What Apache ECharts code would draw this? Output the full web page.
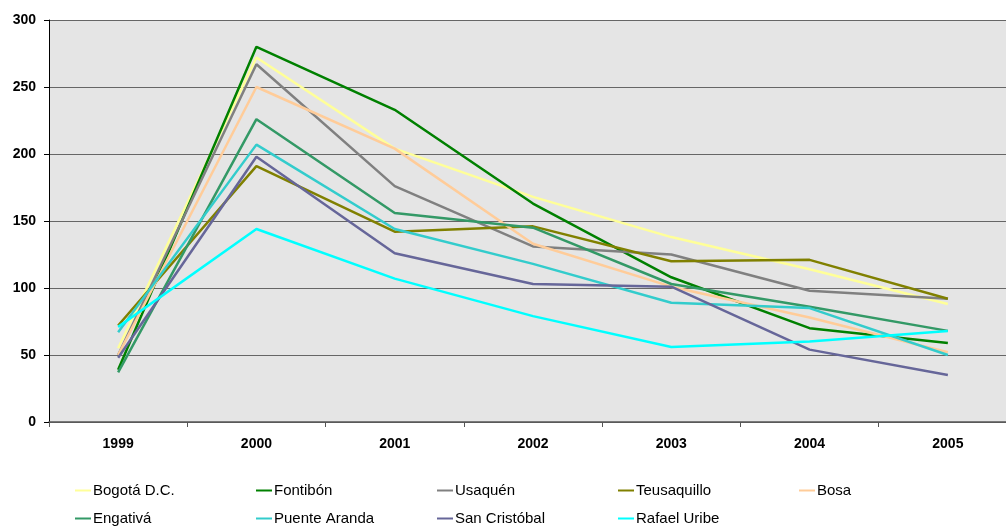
<!DOCTYPE html>
<html>
<head>
<meta charset="utf-8">
<script src="https://cdn.jsdelivr.net/npm/echarts@6/dist/echarts.min.js"></script>
<style>
  html, body {margin: 0; padding: 0; background: #fff;}
  #display {width: 1006px; height: 532px;}
</style>
</head>
<body>
<div id="display"></div>
<script>
var years = ['1999', '2000', '2001', '2002', '2003', '2004', '2005'];
var yTicks = [0, 50, 100, 150, 200, 250, 300];

var names = ['Bogotá D.C.', 'Fontibón', 'Usaquén', 'Teusaquillo', 'Bosa',
             'Engativá', 'Puente Aranda', 'San Cristóbal', 'Rafael Uribe'];

var bogota = [55, 272, 204, 168, 138, 114, 88];
var fontibon = [39, 280, 233, 163, 108, 70, 59];
var usaquen = [50, 267, 176, 131, 125, 98, 92];
var teusaquillo = [72, 191, 142, 146, 120, 121, 92];
var bosa = [50, 250, 204, 133, 101, 78, 52];
var engativa = [37, 226, 156, 145, 103, 86, 68];
var puenteAranda = [67, 207, 144, 118, 89, 85, 50];
var sanCristobal = [48, 198, 126, 103, 101, 54, 35];
var rafaelUribe = [71, 144, 107, 79, 56, 60, 68];

var colors = ['#FFFF99', '#008000', '#808080', '#808000', '#FFCC99',
              '#339966', '#33CCCC', '#666699', '#00FFFF'];
var values = [bogota, fontibon, usaquen, teusaquillo, bosa,
              engativa, puenteAranda, sanCristobal, rafaelUribe];

var series = [];
var legends = [];
for (var i = 0; i < names.length; i++) {
    series.push({
        name: names[i],
        type: 'line',
        data: values[i],
        symbol: 'none',
        color: colors[i],
        lineStyle: {width: 2.5, color: colors[i]}
    });
    // one legend per item so the columns line up like the original
    legends.push({
        data: [names[i]],
        left: 75 + (i % 5) * 181,
        top: 483 + Math.floor(i / 5) * 28,
        icon: 'rect',
        itemWidth: 16,
        itemHeight: 2,
        padding: 0,
        textStyle: {fontFamily: 'Liberation Sans, Arial', fontSize: 15, color: '#000', padding: [0, 0, 0, -3]}
    });
}

var option = {
    animation: false,
    backgroundColor: '#fff',
    legend: legends,
    grid: {left: 49, top: 20, right: -11, bottom: 110, outerBoundsMode: 'none',
           show: true, backgroundColor: '#e5e5e5', borderWidth: 0},
    xAxis: {
        type: 'category',
        data: years,
        boundaryGap: true,
        axisLine: {lineStyle: {color: '#555', width: 1.5}},
        axisTick: {show: true, length: 5, lineStyle: {color: '#555'}},
        axisLabel: {fontFamily: 'Liberation Sans, Arial', fontWeight: 'bold', fontSize: 14, color: '#000', margin: 15}
    },
    yAxis: {
        type: 'value',
        min: yTicks[0],
        max: yTicks[yTicks.length - 1],
        interval: 50,
        axisLine: {show: true, lineStyle: {color: '#000', width: 1}},
        axisTick: {show: true, length: 5, lineStyle: {color: '#000'}},
        axisLabel: {fontFamily: 'Liberation Sans, Arial', fontWeight: 'bold', fontSize: 14, color: '#000', margin: 13},
        splitLine: {lineStyle: {color: '#666', width: 1}}
    },
    series: series
};

var myChart = echarts.init(document.getElementById('display'));
myChart.setOption(option);
</script>
</body>
</html>
